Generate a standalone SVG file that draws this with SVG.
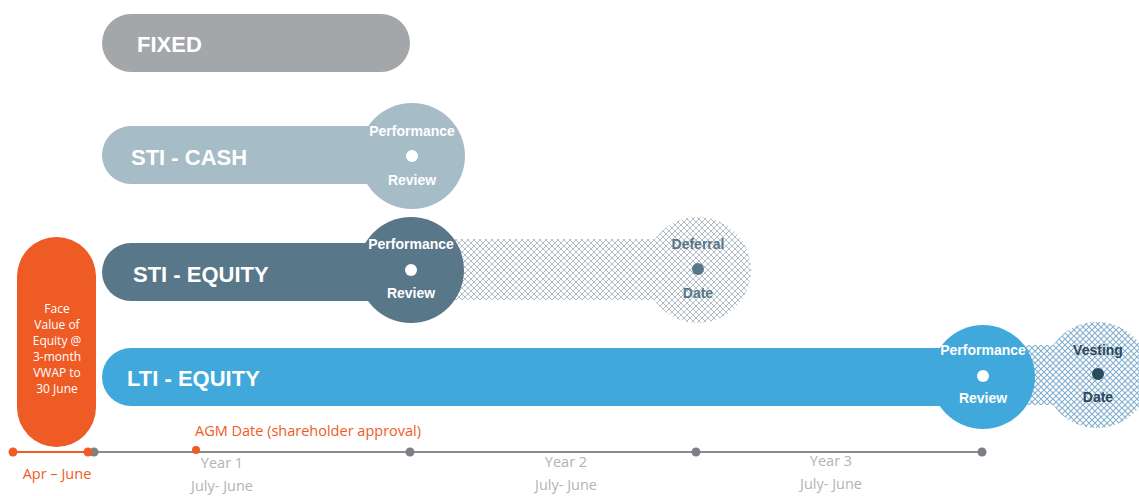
<svg xmlns="http://www.w3.org/2000/svg" width="1139" height="496" viewBox="0 0 1139 496">
<defs>
<pattern id="hatchGrey" width="6" height="6" patternUnits="userSpaceOnUse">
<rect width="6" height="6" fill="#ffffff"/>
<path d="M0,0 L6,6 M6,0 L0,6" stroke="#b3bec7" stroke-width="1"/>
</pattern>
<pattern id="hatchBlue" width="6" height="6" patternUnits="userSpaceOnUse">
<rect width="6" height="6" fill="#ffffff"/>
<path d="M0,0 L6,6 M6,0 L0,6" stroke="#84afcd" stroke-width="1.1"/>
</pattern>
</defs>
<style>
.lbl{font-family:"Liberation Sans",Arial,sans-serif;font-weight:bold;font-size:22px;fill:#ffffff}
.pr{font-family:"Liberation Sans",Arial,sans-serif;font-weight:bold;font-size:14px;fill:#ffffff;text-anchor:middle}
.tl{font-family:"Open Sans","Liberation Sans",sans-serif;font-size:14.5px;text-anchor:middle}
.yr{fill:#b3b3b3}
.or{fill:#ef5b25}
.pill{font-family:"Open Sans","Liberation Sans",sans-serif;font-size:12px;fill:#ffffff;text-anchor:middle}
</style>
<rect width="1139" height="496" fill="#ffffff"/>

<g id="fixed">
<rect x="102" y="14" width="308" height="58" rx="29" fill="#a4a7aa"/>
<text class="lbl" x="137" y="52">FIXED</text>
</g>

<g id="sti-cash">
<rect x="102" y="126" width="320" height="58" rx="29" fill="#a6bcc6"/>
<circle cx="412" cy="156" r="53" fill="#a6bcc6"/>
<text class="lbl" x="131" y="165">STI - CASH</text>
<text class="pr" x="412" y="136">Performance</text>
<circle cx="412" cy="156" r="6" fill="#ffffff"/>
<text class="pr" x="412" y="185">Review</text>
</g>

<g id="sti-equity">
<rect x="411" y="239" width="290" height="61" fill="url(#hatchGrey)"/>
<circle cx="698" cy="270" r="53" fill="url(#hatchGrey)"/>
<rect x="102" y="243" width="320" height="58" rx="29" fill="#587789"/>
<circle cx="411" cy="270" r="53" fill="#587789"/>
<text class="lbl" x="133" y="282">STI - EQUITY</text>
<text class="pr" x="411" y="249">Performance</text>
<circle cx="411" cy="270" r="6" fill="#ffffff"/>
<text class="pr" x="411" y="298">Review</text>
<text class="pr" x="698" y="249" style="fill:#587789">Deferral</text>
<circle cx="698" cy="269" r="6" fill="#587789"/>
<text class="pr" x="698" y="298" style="fill:#587789">Date</text>
</g>

<g id="lti-equity">
<rect x="983" y="345" width="120" height="60" fill="url(#hatchBlue)"/>
<circle cx="1097" cy="375" r="53" fill="url(#hatchBlue)"/>
<rect x="102" y="348" width="890" height="58" rx="29" fill="#41a8db"/>
<circle cx="983" cy="377" r="52" fill="#41a8db"/>
<text class="lbl" x="127" y="386">LTI - EQUITY</text>
<text class="pr" x="983" y="355">Performance</text>
<circle cx="983" cy="376" r="6" fill="#ffffff"/>
<text class="pr" x="983" y="403">Review</text>
<text class="pr" x="1098" y="355" style="fill:#2c4a5e">Vesting</text>
<circle cx="1098" cy="374" r="6" fill="#2c4a5e"/>
<text class="pr" x="1098" y="402" style="fill:#2c4a5e">Date</text>
</g>

<g id="face-value">
<rect x="17" y="237" width="79" height="210" rx="39.5" fill="#ef5b25"/>
<text class="pill" x="57" y="313">Face</text>
<text class="pill" x="57" y="329">Value of</text>
<text class="pill" x="57" y="345">Equity @</text>
<text class="pill" x="57" y="361">3-month</text>
<text class="pill" x="57" y="377">VWAP to</text>
<text class="pill" x="57" y="393">30 June</text>
</g>

<g id="connectors">
<line x1="12" y1="452" x2="89" y2="452" stroke="#ef5b25" stroke-width="2"/>
<line x1="89" y1="452" x2="983" y2="452" stroke="#8a8a8a" stroke-width="2"/>
</g>

<g id="timeline">
<circle cx="13" cy="452" r="4.5" fill="#ef5b25"/>
<circle cx="94" cy="452" r="4.5" fill="#7b7f86"/>
<circle cx="88" cy="452" r="4.5" fill="#ef5b25"/>
<circle cx="196" cy="450" r="4" fill="#ef5b25"/>
<circle cx="410" cy="452" r="4.5" fill="#7b7f86"/>
<circle cx="696" cy="452" r="4.5" fill="#7b7f86"/>
<circle cx="982" cy="452" r="4.5" fill="#7b7f86"/>
<text class="tl or" x="57" y="479">Apr – June</text>
<text class="tl or" x="308" y="436">AGM Date (shareholder approval)</text>
<text class="tl yr" x="222" y="468">Year 1</text>
<text class="tl yr" x="222" y="491">July- June</text>
<text class="tl yr" x="566" y="467">Year 2</text>
<text class="tl yr" x="566" y="490">July- June</text>
<text class="tl yr" x="831" y="466">Year 3</text>
<text class="tl yr" x="831" y="489">July- June</text>
</g>
</svg>
